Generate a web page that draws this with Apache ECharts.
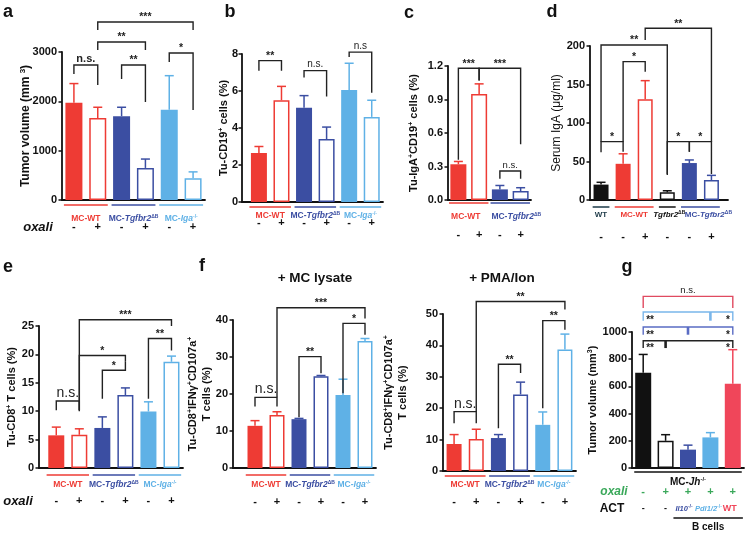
<!DOCTYPE html>
<html><head><meta charset="utf-8">
<script src="https://cdn.jsdelivr.net/npm/echarts/dist/echarts.min.js"></script>
<style>html,body{margin:0;padding:0;background:#fff}#c{width:750px;height:533px}</style>
</head><body><div id="c"></div>
<script>
// ---------- DATA ----------
// panel a : tumor volume
const aSigns = ['-','+','-','+','-','+'];
const aMeans = [1970, 1660, 1700, 650, 1830, 440];
const aErrTop = [2360, 1880, 1880, 830, 2520, 570];
const aYTicks = [0, 1000, 2000, 3000];
const aGroups = [[0,1],[2,3],[4,5]];
const aGroupLabels = ['MC-WT', 'MC-{i|Tgfbr2}{s|ΔB}', 'MC-{i|Iga}{s|-/-}'];
const aBrackets = [[0,1,2736,2554,2331],[2,3,2736,2453,1986],[1,3,3203,3040,3040],[1,5,3608,3446,3446],[4,5,2980,2797,1824]];
const aBracketLabels = ['n.s.','**','**','***','*'];

// panel b : Tu-CD19+
const bSigns = ['-','+','-','+','-','+'];
const bMeans = [2.65, 5.5, 5.1, 3.4, 6.05, 4.6];
const bErrTop = [3.0, 6.25, 5.75, 4.05, 7.5, 5.5];
const bYTicks = [0, 2, 4, 6, 8];
const bGroups = [[0,1],[2,3],[4,5]];
const bGroupLabels = ['MC-WT', 'MC-{i|Tgfbr2}{s|ΔB}', 'MC-{i|Iga}{s|-/-}'];
const bBrackets = [[0,1,7.64,7.1,7.1],[2,3,7.1,6.73,5.7],[4,5,8.1,7.84,5.9]];
const bBracketLabels = ['**','n.s.','n.s'];

// panel c : Tu-IgA+CD19+
const cSigns = ['-','+','-','+'];
const cMeans = [0.32, 0.95, 0.095, 0.08];
const cErrTop = [0.345, 1.04, 0.13, 0.11];
const cYTicks = [0, 0.3, 0.6, 0.9, 1.2];
const cGroups = [[0,1],[2,3]];
const cGroupLabels = ['MC-WT', 'MC-{i|Tgfbr2}{s|ΔB}'];
const cBrackets = [[0,1,1.18,0.36,1.07],[1,3,1.18,1.07,0.5],[2,3,0.26,0.19,0.19]];
const cBracketLabels = ['***','***','n.s.'];

// panel d : serum IgA
const dSigns = ['-','-','+','-','-','+'];
const dMeans = [20, 47, 131, 10, 48, 26];
const dErrTop = [23, 60, 155, 12, 52, 32];
const dYTicks = [0, 50, 100, 150, 200];
const dGroups = [[0,0],[1,2],[3,3],[4,5]];
const dGroupLabels = ['WT', 'MC-WT', '{i|Tgfbr2}{s|ΔB}', 'MC-{i|Tgfbr2}{s|ΔB}'];
const dBrackets = [[0,1,75.8,62,62.8],[1,2,179.7,75.8,166.7],[0,3,201.3,75.8,32.5],[2,5,223,207.8,75.8],[3,4,75.8,33.8,62.8],[4,5,75.8,62.8,33.8]];
const dBracketLabels = ['*','*','**','**','*','*'];

// panel e : Tu-CD8+ T cells
const eSigns = ['-','+','-','+','-','+'];
const eMeans = [5.75, 5.85, 7.05, 12.85, 9.95, 18.7];
const eErrTop = [7.2, 6.9, 9.0, 14.1, 11.65, 19.7];
const eYTicks = [0, 5, 10, 15, 20, 25];
const eGroups = [[0,1],[2,3],[4,5]];
const eGroupLabels = ['MC-WT', 'MC-{i|Tgfbr2}{s|ΔB}', 'MC-{i|Iga}{s|-/-}'];
const eBrackets = [[0,1,11.8,10.15,10.0],[1,3,19.8,10.15,18.7],[2,3,17.2,12.2,18.7],[1,5,26.1,10.15,25.0],[4,5,22.8,12.2,20.7]];
const eBracketLabels = ['n.s.','*','*','***','**'];

// panel f (left) : + MC lysate
const f1Signs = ['-','+','-','+','-','+'];
const f1Means = [11.4, 14.3, 13.2, 24.8, 19.7, 34.3];
const f1ErrTop = [12.8, 15.2, 13.4, 25.0, 24.0, 35.0];
const f1YTicks = [0, 10, 20, 30, 40];
const f1Groups = [[0,1],[2,3],[4,5]];
const f1GroupLabels = ['MC-WT', 'MC-{i|Tgfbr2}{s|ΔB}', 'MC-{i|Iga}{s|-/-}'];
const f1Brackets = [[0,1,19.1,16.6,16.6],[2,3,30.1,13.7,25.6],[4,5,39.1,20.2,36],[1,5,43.3,19.1,40.4]];
const f1BracketLabels = ['n.s.','**','*','***'];

// panel f (right) : + PMA/Ion
const f2Signs = ['-','+','-','+','-','+'];
const f2Means = [8.6, 10.2, 10.5, 24.4, 14.7, 38.7];
const f2ErrTop = [11.6, 13.3, 11.6, 28.3, 18.8, 43.6];
const f2YTicks = [0, 10, 20, 30, 40, 50];
const f2Groups = [[0,1],[2,3],[4,5]];
const f2GroupLabels = ['MC-WT', 'MC-{i|Tgfbr2}{s|ΔB}', 'MC-{i|Iga}{s|-/-}'];
const f2Brackets = [[0,1,18.9,15.2,15.2],[2,3,34,13.6,31.2],[4,5,47.9,20,45],[1,5,54,18.9,51.4]];
const f2BracketLabels = ['n.s.','**','**','**'];

// panel g : tumor volume, MC-Jh-/-
const gSigns = ['-','+','+','+','+'];
const gMeans = [700, 200, 135, 225, 620];
const gErrTop = [835, 245, 168, 260, 870];
const gYTicks = [0, 200, 400, 600, 800, 1000];
const gActLabels = ['-', '-', '{i|Il10}{s|-/-}', '{i|Pdl1/2}{s|-/-}', 'WT'];
const gBrackets = [[0,4,1262,1176,1176],[0,4,1147,1083,1083],[0,4,1037,980,980],[0,4,936,882,882]];
const gBracketLabels = ['n.s.','','',''];
const gBracketMid = [null, 3, 2, 1];
const gBracketSide = [null, ['**','*'], ['**','*'], ['**','*']];

// ---------- STYLE / LAYOUT ----------
const FONT = '"Liberation Sans", Arial, Helvetica, sans-serif';
const RED='#ee3b34', BLUE='#3b4ea2', LBLUE='#5fb1e6', BLACK='#111111', GRED='#f0465a', GREEN='#3aa85a', DARK='#1d3a48';
const C6 = [RED,RED,BLUE,BLUE,LBLUE,LBLUE];
const F6 = [1,0,1,0,1,0];

function grp(ranges, labels, colors, lineOff, textOff, pad, size, dx){
  return {ranges, labels, colors, lineOff, textOff, pad: pad||[0.42,0.42], size: size||8.5, dx: dx||null};
}

const panels = [
  {grid:{left:62, top:52, width:143, height:148}, xMin:-0.5, xMax:5.5, yTicks:aYTicks, means:aMeans, errs:aErrTop, signs:aSigns,
   colors:C6, filled:F6, barWidth:17, signMargin:21, name:'Tumor volume (mm {s|3})', nameGap:29, nameSize:12,
   groups:[grp(aGroups, aGroupLabels, [RED,BLUE,LBLUE], 5, 19)], brackets:aBrackets, bracketLabels:aBracketLabels, nsSize:11, nsWeight:'bold'},
  {grid:{left:242, top:54, width:141, height:148}, xMin:-0.75, xMax:5.5, yTicks:bYTicks, means:bMeans, errs:bErrTop, signs:bSigns,
   colors:C6, filled:F6, barWidth:16, signMargin:15, name:'Tu-CD19{s|+} cells (%)', nameGap:11, nameSize:11, yLabelMargin:4,
   groups:[grp(bGroups, bGroupLabels, [RED,BLUE,LBLUE], 5, 14)], brackets:bBrackets, bracketLabels:bBracketLabels, nsSize:10, nsWeight:'normal'},
  {grid:{left:448, top:66, width:83, height:134}, xMin:-0.5, xMax:3.5, yTicks:cYTicks, means:cMeans, errs:cErrTop, signs:cSigns,
   colors:[RED,RED,BLUE,BLUE], filled:[1,0,1,0], barWidth:16, signMargin:29, name:'Tu-IgA{s|+}CD19{s|+} cells (%)', nameGap:27, nameSize:11,
   yFmt:v=>v.toFixed(1),
   groups:[grp(cGroups, cGroupLabels, [RED,BLUE], 3, 17, [0.45,0.45], 8.5, [-3,6])], brackets:cBrackets, bracketLabels:cBracketLabels, nsSize:9.5, nsWeight:'normal'},
  {grid:{left:590, top:46, width:138, height:154}, xMin:-0.5, xMax:5.75, yTicks:dYTicks, means:dMeans, errs:dErrTop, signs:dSigns,
   colors:[BLACK,RED,RED,BLACK,BLUE,BLUE], filled:[1,1,0,0,1,0], barWidth:15, signMargin:31, name:'Serum IgA (μg/ml)', nameGap:26, nameSize:12, nameWeight:'normal',
   groups:[grp(dGroups, dGroupLabels, [DARK,RED,BLACK,BLUE], 7, 15, [0.38,0.38], 8, [0,0,2,8])], brackets:dBrackets, bracketLabels:dBracketLabels, nsSize:10, nsWeight:'normal'},
  {grid:{left:39, top:326, width:144, height:142}, xMin:-0.75, xMax:5.5, yTicks:eYTicks, means:eMeans, errs:eErrTop, signs:eSigns,
   colors:C6, filled:F6, barWidth:16, signMargin:27, name:'Tu-CD8{s|+} T cells (%)', nameGap:20, nameSize:11,
   groups:[grp(eGroups, eGroupLabels, [RED,BLUE,LBLUE], 7, 17)], brackets:eBrackets, bracketLabels:eBracketLabels, nsSize:14, nsWeight:'normal'},
  {grid:{left:233, top:320, width:143, height:148}, xMin:-1, xMax:5.5, yTicks:f1YTicks, means:f1Means, errs:f1ErrTop, signs:f1Signs,
   colors:C6, filled:F6, barWidth:15, signMargin:28, name:'Tu-CD8{s|+}IFNγ{s|+}CD107a{s|+}\nT cells (%)', nameGap:19, nameSize:11,
   groups:[grp(f1Groups, f1GroupLabels, [RED,BLUE,LBLUE], 7, 17)], brackets:f1Brackets, bracketLabels:f1BracketLabels, nsSize:14, nsWeight:'normal'},
  {grid:{left:443, top:314, width:133, height:157}, xMin:-0.5, xMax:5.5, yTicks:f2YTicks, means:f2Means, errs:f2ErrTop, signs:f2Signs,
   colors:C6, filled:F6, barWidth:15, signMargin:25, name:'Tu-CD8{s|+}IFNγ{s|+}CD107a{s|+}\nT cells (%)', nameGap:33, nameSize:11,
   groups:[grp(f2Groups, f2GroupLabels, [RED,BLUE,LBLUE], 5, 14)], brackets:f2Brackets, bracketLabels:f2BracketLabels, nsSize:14, nsWeight:'normal'},
  {grid:{left:632, top:332, width:112, height:136}, xMin:-0.5, xMax:4.5, yTicks:gYTicks, means:gMeans, errs:gErrTop, signs:gSigns, signColor:GREEN,
   colors:[BLACK,BLACK,BLUE,LBLUE,GRED], filled:[1,0,1,1,1], barWidth:16, signMargin:18, name:'Tumor volume (mm{s|3})', nameGap:32, nameSize:11,
   groups:[grp([[0,4]], ['MC-{i|Jh}{s|-/-}'], [BLACK], 4, 14, [0.4,0.4], 10), grp([[2,4]], ['B cells'], [BLACK], 50, 59, [0.65,0.45], 10)],
   row:{labels:gActLabels, colors:[BLACK,BLACK,BLUE,LBLUE,GRED], off:41, size:7.5, dx:[0,0,-4,-2,-3]},
   brackets:gBrackets, bracketLabels:gBracketLabels, bracketMid:gBracketMid, bracketSide:gBracketSide,
   bracketColors:['#e04a60','#7ab6ea','#5a6cc4','#222'], nsSize:9.5, nsWeight:'normal'}
];

function zRich(size, col){
  return {
    i:{fill:col, fontFamily:FONT, fontSize:size, fontWeight:'bold', fontStyle:'italic'},
    s:{fill:col, fontFamily:FONT, fontSize:Math.round(size*0.62), fontWeight:'bold', padding:[0,0,Math.round(size*0.55),0]}
  };
}

const grids=[], xAxes=[], yAxes=[], series=[];
panels.forEach((P, gi) => {
  grids.push(Object.assign({containLabel:false, outerBoundsMode:'none'}, P.grid));
  xAxes.push({type:'value', gridIndex:gi, min:P.xMin, max:P.xMax, interval:0.25,
    axisLine:{show:true, onZero:false, lineStyle:{color:'#111', width:1.8}},
    axisTick:{show:false}, splitLine:{show:false}, minorTick:{show:false},
    axisLabel:{show:true, margin:P.signMargin, fontFamily:FONT, fontWeight:'bold', fontSize:11, color:P.signColor||'#111', hideOverlap:false,
      formatter:(v)=>{const k=Math.round(v); return (Math.abs(v-k)<1e-6 && k>=0 && k<P.signs.length) ? P.signs[k] : '';}}
  });
  const yt = P.yTicks;
  yAxes.push({type:'value', gridIndex:gi, min:yt[0], max:yt[yt.length-1], interval:yt[1]-yt[0],
    axisLine:{show:true, onZero:false, lineStyle:{color:'#111', width:1.8}},
    axisTick:{show:true, length:3.5, lineStyle:{color:'#111', width:1.5}},
    splitLine:{show:false},
    axisLabel:{margin:P.yLabelMargin||5, fontFamily:FONT, fontWeight:'bold', fontSize:11, color:'#111', formatter:P.yFmt||(v=>String(v))},
    name:P.name, nameLocation:'middle', nameGap:P.nameGap, nameRotate:90, nameMoveOverlap:false,
    nameTextStyle:{fontFamily:FONT, fontWeight:P.nameWeight||'bold', fontSize:P.nameSize, color:'#111', lineHeight:14,
      rich:{s:{fontFamily:FONT, fontWeight:P.nameWeight||'bold', fontSize:Math.round(P.nameSize*0.65), color:'#111', padding:[0,0,6,0]}}}
  });
  // bars
  series.push({type:'bar', xAxisIndex:gi, yAxisIndex:gi, barWidth:P.barWidth, z:2, silent:true,
    data:P.means.map((m,i)=>({value:[i,m], itemStyle: P.filled[i] ? {color:P.colors[i]} : {color:'#fff', borderColor:P.colors[i], borderWidth:1.5}}))
  });
  // error bars
  series.push({type:'custom', xAxisIndex:gi, yAxisIndex:gi, clip:false, silent:true, z:3,
    data:P.means.map((m,i)=>[i, m, P.errs[i]]), encode:{x:0, y:[1,2]},
    renderItem:(p, api)=>{
      const i=api.value(0);
      const a=api.coord([i, api.value(1)]), b=api.coord([i, api.value(2)]);
      const c=P.colors[p.dataIndex];
      return {type:'group', children:[
        {type:'line', shape:{x1:a[0], y1:a[1], x2:b[0], y2:b[1]}, style:{stroke:c, lineWidth:1.5}},
        {type:'line', shape:{x1:b[0]-4.5, y1:b[1], x2:b[0]+4.5, y2:b[1]}, style:{stroke:c, lineWidth:1.5}}
      ]};
    }
  });
  // significance brackets
  series.push({type:'custom', xAxisIndex:gi, yAxisIndex:gi, clip:false, silent:true, z:4,
    data:P.brackets.map(b=>[b[0], b[2]]),
    renderItem:(p, api)=>{
      const k=p.dataIndex, b=P.brackets[k];
      const L=api.coord([b[0], b[2]]), R=api.coord([b[1], b[2]]);
      const yl=api.coord([b[0], b[3]])[1], yr=api.coord([b[1], b[4]])[1];
      const col=(P.bracketColors && P.bracketColors[k]) || '#222';
      const ch=[{type:'polyline', shape:{points:[[L[0],yl],[L[0],L[1]],[R[0],R[1]],[R[0],yr]]}, style:{stroke:col, fill:null, lineWidth:1.4}}];
      const lab=P.bracketLabels[k];
      if (lab) {
        const ns = lab.indexOf('n') >= 0;
        ch.push({type:'text', x:(L[0]+R[0])/2, y:L[1]-(ns?1:-1), style:{text:lab, fill:'#222', align:'center', verticalAlign:'bottom',
          fontFamily:FONT, fontSize: ns?P.nsSize:10.5, fontWeight: ns?P.nsWeight:'bold'}});
      }
      if (P.bracketMid && P.bracketMid[k]!=null) {
        const m=api.coord([P.bracketMid[k], b[2]]);
        ch.push({type:'line', shape:{x1:m[0], y1:L[1], x2:m[0], y2:yl}, style:{stroke:col, lineWidth:2.6}});
      }
      if (P.bracketSide && P.bracketSide[k]) {
        const s=P.bracketSide[k];
        ch.push({type:'text', x:L[0]+3, y:L[1]+3, style:{text:s[0], fill:'#222', align:'left', verticalAlign:'top', fontFamily:FONT, fontSize:10, fontWeight:'bold'}});
        ch.push({type:'text', x:R[0]-3, y:L[1]+3, style:{text:s[1], fill:'#222', align:'right', verticalAlign:'top', fontFamily:FONT, fontSize:10, fontWeight:'bold'}});
      }
      return {type:'group', children:ch};
    }
  });
  // group underlines + labels
  P.groups.forEach(G => {
    series.push({type:'custom', xAxisIndex:gi, yAxisIndex:gi, clip:false, silent:true, z:4,
      data:G.ranges.map(r=>[r[0], 0]),
      renderItem:(p, api)=>{
        const k=p.dataIndex, r=G.ranges[k], col=G.colors[k];
        const l=api.coord([r[0]-G.pad[0], 0]), rr=api.coord([r[1]+G.pad[1], 0]);
        const y0=l[1], dx=G.dx ? G.dx[k] : 0;
        return {type:'group', children:[
          {type:'line', shape:{x1:l[0], y1:y0+G.lineOff, x2:rr[0], y2:y0+G.lineOff}, style:{stroke:col, lineWidth:1.5}},
          {type:'text', x:(l[0]+rr[0])/2+dx, y:y0+G.textOff, style:{text:G.labels[k], rich:zRich(G.size, col), fill:col, align:'center', verticalAlign:'middle',
            fontFamily:FONT, fontSize:G.size, fontWeight:'bold'}}
        ]};
      }
    });
  });
  // extra per-bar text row (ACT)
  if (P.row) {
    const R=P.row;
    series.push({type:'custom', xAxisIndex:gi, yAxisIndex:gi, clip:false, silent:true, z:4,
      data:R.labels.map((t,i)=>[i, 0]),
      renderItem:(p, api)=>{
        const k=p.dataIndex, c=api.coord([k, 0]), col=R.colors[k];
        return {type:'text', x:c[0]+R.dx[k], y:c[1]+R.off, style:{text:R.labels[k], rich:zRich(R.size, col), fill:col, align:'center', verticalAlign:'middle',
          fontFamily:FONT, fontSize:R.size+1.5, fontWeight:'bold'}};
      }
    });
  }
});

function txt(t, x, y, size, extra){
  return {type:'text', x, y, silent:true, style:Object.assign({text:t, fill:'#111', fontFamily:FONT, fontSize:size, fontWeight:'bold', align:'center', verticalAlign:'middle'}, extra||{})};
}

const option = {
  animation:false,
  backgroundColor:'#fff',
  grid:grids, xAxis:xAxes, yAxis:yAxes, series,
  graphic:[
    txt('a', 8, 12, 18), txt('b', 230, 12, 18), txt('c', 409, 13, 18), txt('d', 552, 12, 18),
    txt('e', 8, 267, 18), txt('f', 202, 266, 18), txt('g', 627, 267, 18),
    txt('+ MC lysate', 315, 278, 13.5), txt('+ PMA/Ion', 502, 278, 13.5),
    txt('oxali', 38, 227, 13, {fontStyle:'italic'}), txt('oxali', 18, 501, 13, {fontStyle:'italic'}),
    txt('oxali', 614, 492, 12, {fontStyle:'italic', fill:GREEN}), txt('ACT', 612, 509, 12)
  ]
};
const chart = echarts.init(document.getElementById('c'), null, {renderer:'canvas'});
chart.setOption(option);
</script></body></html>
